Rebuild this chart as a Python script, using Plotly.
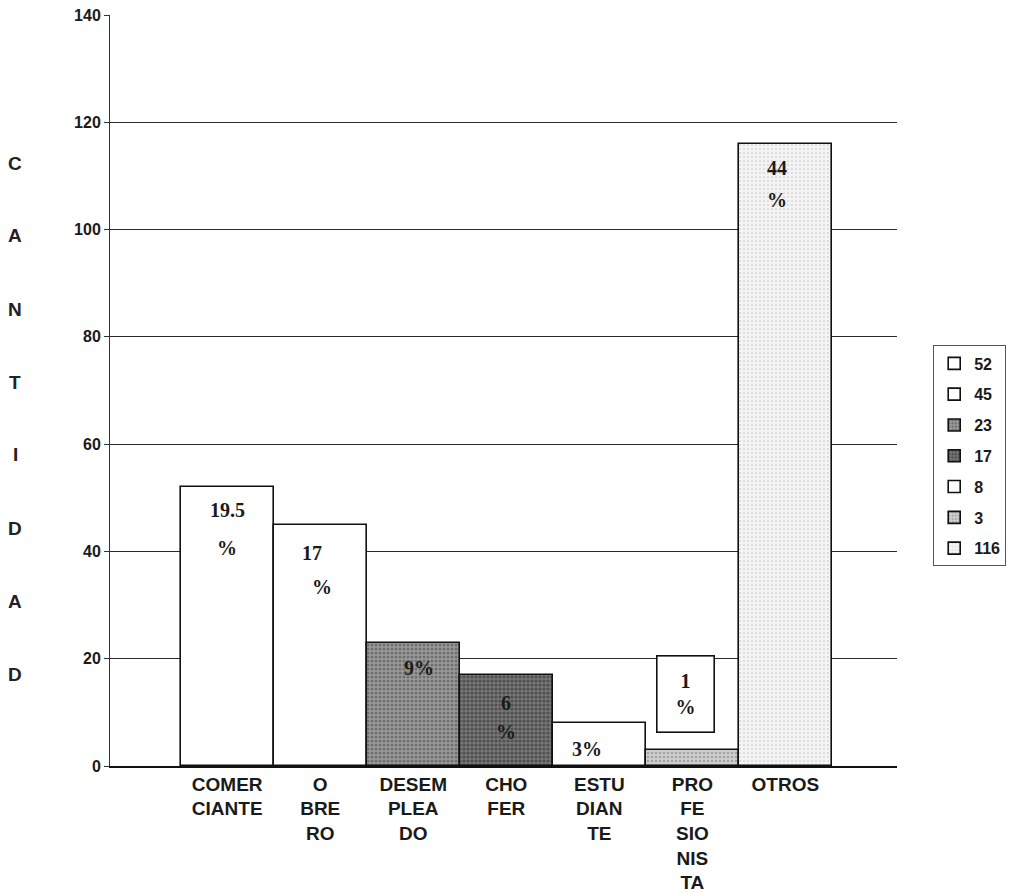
import plotly.graph_objects as go

# Ocupación de los encuestados
categorias = ["COMER<br>CIANTE", "O<br>BRE<br>RO", "DESEM<br>PLEA<br>DO", "CHO<br>FER",
              "ESTU<br>DIAN<br>TE", "PRO<br>FE<br>SIO<br>NIS<br>TA", "OTROS"]
cantidades = [52, 45, 23, 17, 8, 3, 116]
porcentajes = [["19.5", "%"], ["17", "%"], ["9%"], ["6", "%"], ["3%"], ["1", "%"], ["44", "%"]]
y_ticks = [0, 20, 40, 60, 80, 100, 120, 140]

# fill styles per bar: (background, grain colour, grain solidity)
estilos = [
    ("#ffffff", None, 0),
    ("#ffffff", None, 0),
    ("#9a9a9a", "#444444", 0.45),
    ("#767676", "#2a2a2a", 0.5),
    ("#ffffff", None, 0),
    ("#cfcfcf", "#777777", 0.35),
    ("#f4f4f4", "#8a8a8a", 0.12),
]

fig = go.Figure()
for cat, val, (bg, fg, sol) in zip(categorias, cantidades, estilos):
    marker = dict(color=bg, line=dict(color="#111111", width=1.6))
    if fg:
        marker["pattern"] = dict(shape=".", fgcolor=fg, bgcolor=bg, size=4,
                                 solidity=sol, fillmode="overlay")
    fig.add_trace(go.Bar(x=[cat], y=[val], name=str(val), marker=marker,
                         legendgroup=str(val), width=1.0))

# percentage labels inside the bars (pixel offsets below each bar top)
offsets = [[23, 61], [28, 62], [25], [28, 57], [26], None, [24, 56]]
xshifts = [[0, 0], [-8, 2], [6], [0, 0], [-12], None, [-8, -8]]
serif = dict(family="Liberation Serif", size=20, color="#1a1a1a", weight="bold")
for i, (lines, val) in enumerate(zip(porcentajes, cantidades)):
    if offsets[i] is None:
        continue
    for txt, off, xs in zip(lines, offsets[i], xshifts[i]):
        fig.add_annotation(x=categorias[i], y=val, xref="x", yref="y", text=txt,
                           showarrow=False, yshift=-off, xshift=xs,
                           yanchor="middle", font=serif)

# boxed label above the small bar
fig.add_annotation(x=categorias[5], y=cantidades[5], xref="x", yref="y",
                   text="<br>".join(porcentajes[5]), showarrow=False,
                   yanchor="bottom", yshift=17, xshift=-7,
                   width=54, height=73, bgcolor="#ffffff",
                   bordercolor="#111111", borderwidth=1.6, font=serif)

# vertical axis title, one letter per row
titulo = "CANTIDAD"
for k, letra in enumerate(titulo):
    py = 163 + 73 * k
    fig.add_annotation(x=(15 - 110) / 787, y=(766 - py) / 751, xref="paper", yref="paper",
                       text=letra, showarrow=False, xanchor="center", yanchor="middle",
                       font=dict(family="Liberation Sans", size=19, color="#222222",
                                 weight="bold"))

fig.update_layout(
    width=1010, height=893,
    margin=dict(l=110, r=113, t=15, b=127, autoexpand=False),
    paper_bgcolor="#ffffff",
    plot_bgcolor="#ffffff",
    barmode="overlay",
    bargap=0,
    showlegend=True,
    legend=dict(x=1.046, y=0.56, xanchor="left", yanchor="top",
                bgcolor="#ffffff", bordercolor="#555555", borderwidth=1,
                tracegroupgap=7, traceorder="grouped", itemwidth=30,
                font=dict(family="Liberation Sans", size=16, color="#1a1a1a",
                          weight="bold")),
    xaxis=dict(range=[-1.26, 7.2], showgrid=False, showline=True,
               linecolor="#111111", linewidth=1.5, ticks="", automargin=False,
               tickfont=dict(family="Liberation Sans", size=19, color="#1a1a1a",
                             weight="bold")),
    yaxis=dict(range=[0, 140], tickvals=y_ticks, showgrid=True,
               gridcolor="#2a2a2a", gridwidth=1, zeroline=False, automargin=False,
               showline=True, linecolor="#333333", linewidth=1,
               ticks="outside", ticklen=5, tickcolor="#333333",
               tickfont=dict(family="Liberation Sans", size=16, color="#1a1a1a",
                             weight="bold")),
)

fig.write_html("out.html")
